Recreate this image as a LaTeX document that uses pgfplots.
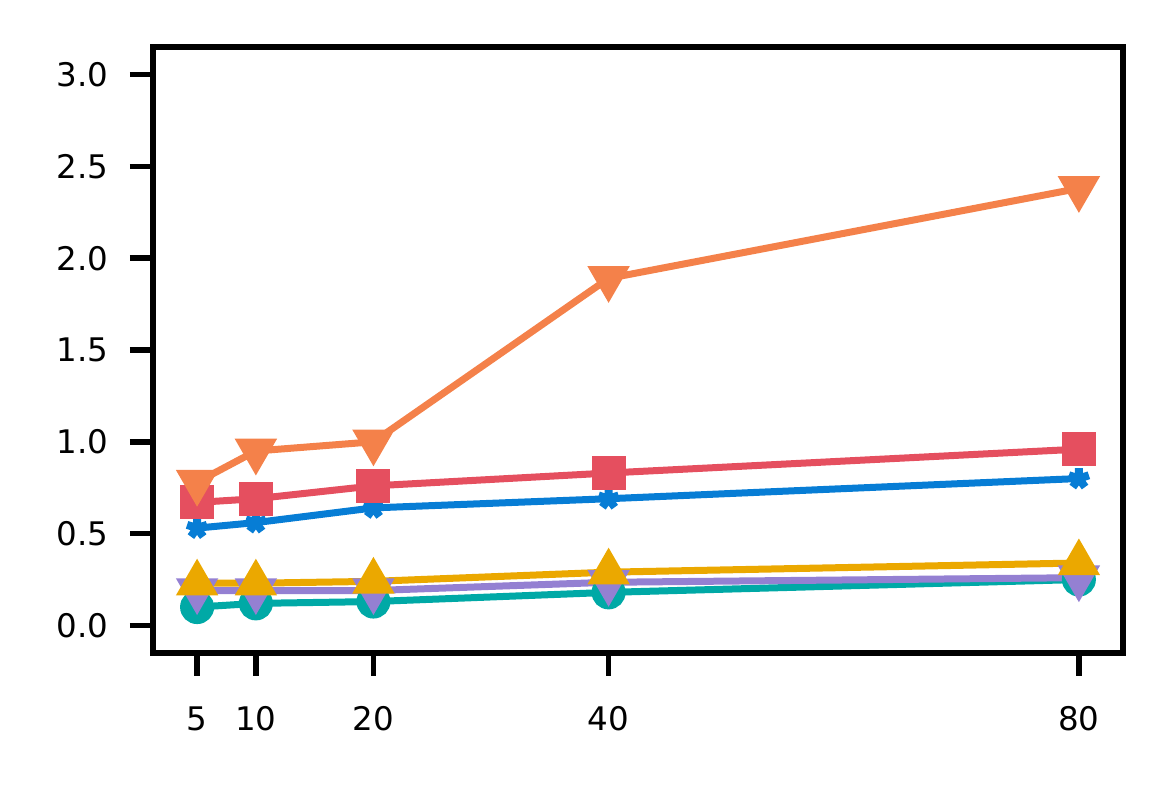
\documentclass[border=0pt]{standalone}
\usepackage{fontspec}
\setmainfont{DejaVu Sans}
\usepackage{pgfplots}
\pgfplotsset{compat=1.18}
\definecolor{cOrange}{HTML}{F4814A}
\definecolor{cRed}{HTML}{E54F5F}
\definecolor{cBlue}{HTML}{077DD5}
\definecolor{cYellow}{HTML}{EBA800}
\definecolor{cPurple}{HTML}{9480D2}
\definecolor{cTeal}{HTML}{00A9A6}
\begin{document}
\begin{tikzpicture}
\begin{axis}[
  scale only axis,
  width=194pt, height=121.2pt,
  xmin=1.25, xmax=83.75,
  ymin=-0.15, ymax=3.15,
  xtick={5,10,20,40,80},
  ytick={0,0.5,1,1.5,2,2.5,3},
  /pgf/number format/assume math mode=true,
  yticklabel style={/pgf/number format/fixed,/pgf/number format/fixed zerofill,/pgf/number format/precision=1,font=\fontsize{6.5}{7.5}\selectfont, xshift=-0.8pt},
  xticklabel style={font=\fontsize{6.5}{7.5}\selectfont, yshift=-2.6pt},
  tick align=outside,
  major tick length=4.6pt,
  tick style={line width=1.1pt, black},
  axis line style={line width=1.2pt},
  xtick pos=bottom, ytick pos=left,
  every axis plot/.append style={line width=1.4pt},
]
\addplot[cTeal, mark=*, mark size=2.7pt] coordinates {(5,0.10) (10,0.12) (20,0.13) (40,0.18) (80,0.25)};
\addplot[cPurple, mark=triangle*, mark size=3.5pt, mark options={rotate=180}] coordinates {(5,0.19) (10,0.19) (20,0.19) (40,0.235) (80,0.26)};
\addplot[cYellow, mark=triangle*, mark size=3.5pt] coordinates {(5,0.23) (10,0.23) (20,0.24) (40,0.29) (80,0.34)};
\addplot[cBlue, mark=star, mark size=2.1pt, mark options={line width=1.6pt}] coordinates {(5,0.53) (10,0.56) (20,0.64) (40,0.69) (80,0.80)};
\addplot[cRed, mark=square*, mark size=2.7pt] coordinates {(5,0.67) (10,0.69) (20,0.76) (40,0.83) (80,0.96)};
\addplot[cOrange, mark=triangle*, mark size=3.5pt, mark options={rotate=180}] coordinates {(5,0.78) (10,0.95) (20,1.0) (40,1.89) (80,2.38)};
\end{axis}
\path (current axis.south west) ++(-30.6pt,-26.6pt) coordinate (bl);
\path (current axis.north east) ++(9.8pt,9.4pt) coordinate (tr);
\useasboundingbox (bl) rectangle (tr);
\end{tikzpicture}
\end{document}
